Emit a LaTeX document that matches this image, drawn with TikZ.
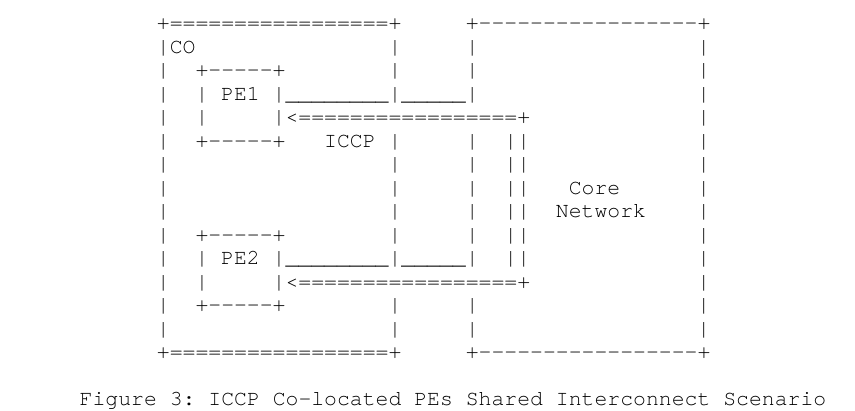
\documentclass[tikz,border=0pt]{standalone}
\usepackage{fontspec}
\setmonofont{texgyrecursor}[Extension=.otf, UprightFont=*-regular]

\begin{document}
\begin{tikzpicture}[x=9.6525pt, y=-17.625pt,
  ascii/.style={font=\ttfamily\fontsize{16.09pt}{17.6pt}\selectfont, anchor=base west, inner sep=0pt, outer sep=0pt}]
\useasboundingbox (-12.19,-1.27) rectangle (54.24,16.18);

%Outer frames
\node (cotop) at (0,0) [ascii] {+=================+};
\node (cotop2) at (24,0) [ascii] {+-----------------+};
\node (cobot) at (0,14) [ascii] {+=================+};
\node (cobot2) at (24,14) [ascii] {+-----------------+};
\foreach \r in {1,...,13} {
  \node (lbar\r) at (0,\r) [ascii] {|};
  \node (rbar\r) at (42,\r) [ascii] {|};
}
\foreach \r in {1,2,3,5,6,7,8,9,10,12,13} {
  \node (cobar\r) at (18,\r) [ascii] {|};
  \node (cnbar\r) at (24,\r) [ascii] {|};
}
\node (co) at (1,1) [ascii] {CO};

%PE boxes
\foreach \p/\r in {1/2,2/9} {
  \node (pe\p top) at (3,\r) [ascii] {+-----+};
  \node (pe\p l1) at (3,\r+1) [ascii] {|};
  \node (pe\p r1) at (9,\r+1) [ascii] {|};
  \node (pe\p l2) at (3,\r+2) [ascii] {|};
  \node (pe\p r2) at (9,\r+2) [ascii] {|};
  \node (pe\p bot) at (3,\r+3) [ascii] {+-----+};
  \node (pe\p) at (5,\r+1) [ascii] {PE\p};
  \node (link\p a) at (10,\r+1) [ascii] {\_\_\_\_\_\_\_\_};
  \node (link\p b) at (19,\r+1) [ascii] {\_\_\_\_\_};
  \node (iccp\p) at (10,\r+2) [ascii] {<=================+};
}

%ICCP path
\node (iccp) at (13,5) [ascii] {ICCP};
\foreach \r in {5,...,10}
  \node (dbar\r) at (27,\r) [ascii] {||};

%Core
\node (core) at (32,7) [ascii] {Core};
\node (net) at (31,8) [ascii] {Network};

%Caption
\node (caption) at (-6,16) [ascii] {Figure 3: ICCP Co-located PEs Shared Interconnect Scenario};

\end{tikzpicture}
\end{document}
